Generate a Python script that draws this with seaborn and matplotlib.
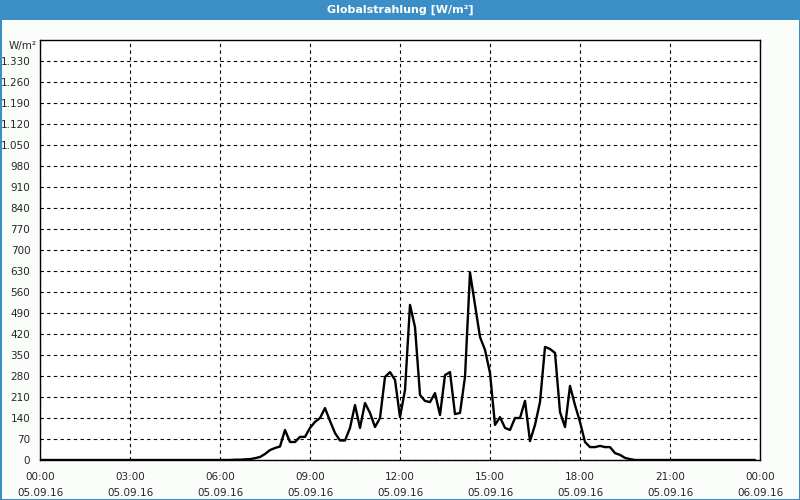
import matplotlib
matplotlib.use("Agg")
import matplotlib.pyplot as plt
from matplotlib.patches import Rectangle
import seaborn as sns
import pandas as pd

# ---- data (10-minute readings, W/m²) ----
times = ["00:00", "06:20", "06:30", "06:40", "06:50", "07:00", "07:10", "07:20", "07:30",
         "07:40", "07:50", "08:00", "08:10", "08:20", "08:30", "08:40", "08:50", "09:00",
         "09:10", "09:20", "09:30", "09:40", "09:50", "10:00", "10:10", "10:20", "10:30",
         "10:40", "10:50", "11:00", "11:10", "11:20", "11:30", "11:40", "11:50", "12:00",
         "12:10", "12:20", "12:30", "12:40", "12:50", "13:00", "13:10", "13:20", "13:30",
         "13:40", "13:50", "14:00", "14:10", "14:20", "14:30", "14:40", "14:50", "15:00",
         "15:10", "15:20", "15:30", "15:40", "15:50", "16:00", "16:10", "16:20", "16:30",
         "16:40", "16:50", "17:00", "17:10", "17:20", "17:30", "17:40", "17:50", "18:00",
         "18:10", "18:20", "18:30", "18:40", "18:50", "19:00", "19:10", "19:20", "19:30",
         "19:40", "19:50", "23:50"]
values = [0, 0, 1, 1, 2, 3, 6, 10, 20,
          33, 40, 45, 100, 60, 60, 77, 77, 107,
          127, 140, 173, 130, 90, 65, 65, 107, 183,
          107, 190, 157, 110, 140, 277, 293, 267, 143,
          233, 517, 443, 217, 197, 193, 223, 150, 283,
          293, 153, 157, 277, 625, 517, 410, 367, 290,
          117, 143, 107, 100, 140, 140, 197, 63, 117,
          193, 377, 370, 357, 160, 110, 247, 183, 127,
          60, 43, 43, 47, 43, 43, 23, 17, 7,
          3, 0, 0]

x_tick_labels = ["00:00\n05.09.16", "03:00\n05.09.16", "06:00\n05.09.16", "09:00\n05.09.16",
                 "12:00\n05.09.16", "15:00\n05.09.16", "18:00\n05.09.16", "21:00\n05.09.16",
                 "00:00\n06.09.16"]
y_ticks = list(range(0, 1400, 70))
title = "Globalstrahlung [W/m²]"
unit = "W/m²"

hours = [int(t[:2]) + int(t[3:]) / 60 for t in times]
df = pd.DataFrame({"hour": hours, "value": values})

sns.set_style("white")
plt.rcParams["font.family"] = ["DejaVu Sans"]

fig = plt.figure(figsize=(8, 5), dpi=100)
fig.patch.set_facecolor("#fbfdfb")
ax = fig.add_axes([40 / 800, 40 / 500, 720 / 800, 420 / 500])
ax.set_facecolor("white")

sns.lineplot(data=df, x="hour", y="value", ax=ax, color="black", linewidth=1.7, zorder=3)

ax.set_xlim(0, 24)
ax.set_ylim(0, 1400)
ax.set_xticks(list(range(0, 25, 3)))
ax.set_xticklabels(x_tick_labels, fontsize=7.5, linespacing=1.7)
ax.set_xticks(list(range(0, 25, 1)), minor=True)
ax.set_yticks(y_ticks)
ax.set_yticklabels([f"{v:,}".replace(",", ".") for v in y_ticks], fontsize=7.5)
ax.tick_params(axis="x", which="both", direction="out", length=3, width=1, color="black", pad=6)
ax.tick_params(axis="y", direction="out", length=4, width=1, color="black", pad=3)
ax.set_xlabel("")
ax.set_ylabel("")
ax.grid(True, which="major", color="black", linestyle=(0, (3, 3)), linewidth=0.8)
ax.set_axisbelow(True)
for s in ax.spines.values():
    s.set_color("black")
    s.set_linewidth(1)
    s.set_visible(True)

fig.text(9 / 800, 1 - 46 / 500, unit, fontsize=7.5, ha="left", va="center")

# title bar and frame
fig.patches.append(Rectangle((0, 480 / 500), 1, 20 / 500, transform=fig.transFigure,
                             facecolor="#3c8fc6", edgecolor="none", zorder=0))
fig.patches.append(Rectangle((0.5 / 800, 0.5 / 500), 799 / 800, 499 / 500, transform=fig.transFigure,
                             facecolor="none", edgecolor="#3c8fc6", linewidth=1.5, zorder=5))
fig.text(0.5, 1 - 10 / 500, title, color="white", fontsize=8, fontweight="bold",
         ha="center", va="center")

fig.savefig("out.png", dpi=100, facecolor=fig.get_facecolor())
